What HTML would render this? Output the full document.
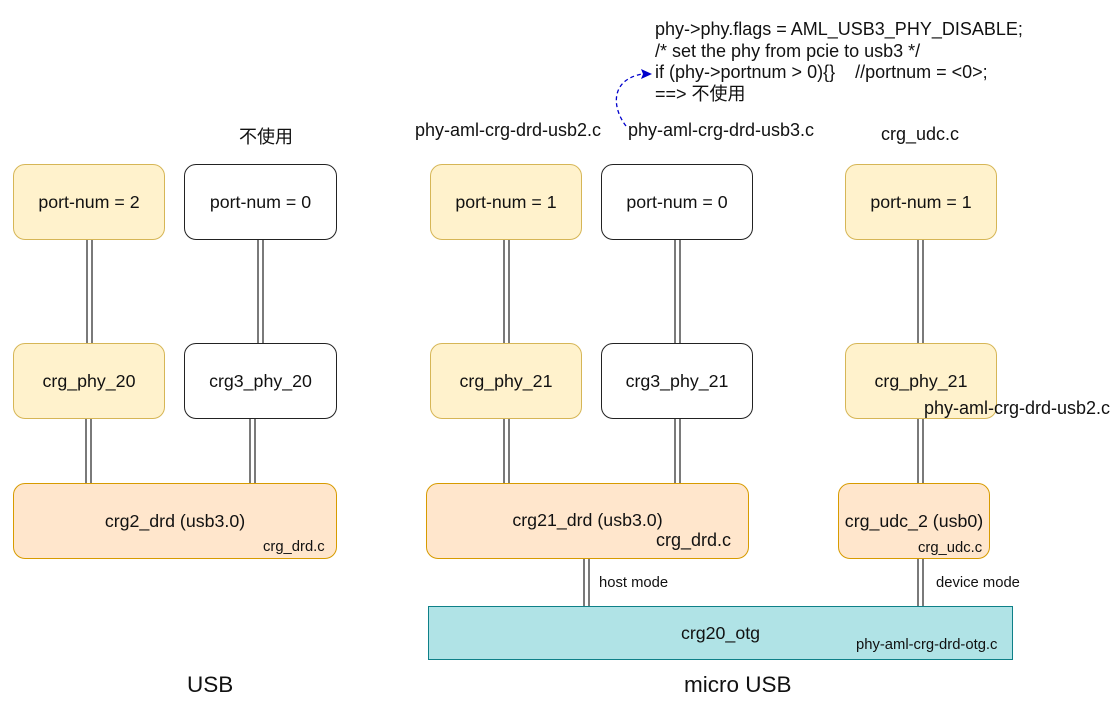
<!DOCTYPE html>
<html><head><meta charset="utf-8"><style>
body{margin:0;width:1116px;height:728px;background:#fff;position:relative;overflow:hidden;font-family:"Liberation Sans","Noto Sans CJK SC",sans-serif;color:#111}
.b{position:absolute;box-sizing:border-box;border-radius:12px;display:flex;align-items:center;justify-content:center;font-size:17.8px}
.y{background:#fff2cc;border:1.3px solid #d6b656}
.w{background:#fff;border:1.3px solid #222}
.o{background:#ffe6cc;border:1.3px solid #d79b00}
.t{position:absolute;white-space:nowrap;font-size:18px}
.s{position:absolute;font-size:14.8px;white-space:nowrap}
</style></head><body>
<svg width="1116" height="728" style="position:absolute;left:0;top:0">
<g stroke="#333" stroke-width="1.3">
<line x1="87" y1="240" x2="87" y2="343"/><line x1="92" y1="240" x2="92" y2="343"/>
<line x1="258" y1="240" x2="258" y2="343"/><line x1="263" y1="240" x2="263" y2="343"/>
<line x1="86" y1="419" x2="86" y2="483"/><line x1="91" y1="419" x2="91" y2="483"/>
<line x1="250" y1="419" x2="250" y2="483"/><line x1="255" y1="419" x2="255" y2="483"/>
<line x1="504" y1="240" x2="504" y2="343"/><line x1="509" y1="240" x2="509" y2="343"/>
<line x1="675" y1="240" x2="675" y2="343"/><line x1="680" y1="240" x2="680" y2="343"/>
<line x1="504" y1="419" x2="504" y2="483"/><line x1="509" y1="419" x2="509" y2="483"/>
<line x1="675" y1="419" x2="675" y2="483"/><line x1="680" y1="419" x2="680" y2="483"/>
<line x1="918" y1="240" x2="918" y2="343"/><line x1="923" y1="240" x2="923" y2="343"/>
<line x1="918" y1="419" x2="918" y2="483"/><line x1="923" y1="419" x2="923" y2="483"/>
<line x1="584" y1="559" x2="584" y2="606"/><line x1="589" y1="559" x2="589" y2="606"/>
<line x1="918" y1="559" x2="918" y2="606"/><line x1="923" y1="559" x2="923" y2="606"/>
</g>
<path d="M626 126 C612 108 610 80 642 74" fill="none" stroke="#0000cc" stroke-width="1.3" stroke-dasharray="4 3"/>
<path d="M652 74 L641 69 L643 74 L641 79 Z" fill="#0000cc"/>
</svg>
<div class="b y" style="left:13px;top:164px;width:152px;height:76px">port-num = 2</div>
<div class="b w" style="left:184px;top:164px;width:153px;height:76px">port-num = 0</div>
<div class="b y" style="left:13px;top:343px;width:152px;height:76px">crg_phy_20</div>
<div class="b w" style="left:184px;top:343px;width:153px;height:76px">crg3_phy_20</div>
<div class="b o" style="left:13px;top:483px;width:324px;height:76px">crg2_drd (usb3.0)</div>
<div class="s" style="left:263px;top:539px">crg_drd.c</div>
<div class="b y" style="left:430px;top:164px;width:152px;height:76px">port-num = 1</div>
<div class="b w" style="left:601px;top:164px;width:152px;height:76px">port-num = 0</div>
<div class="b y" style="left:430px;top:343px;width:152px;height:76px">crg_phy_21</div>
<div class="b w" style="left:601px;top:343px;width:152px;height:76px">crg3_phy_21</div>
<div class="b o" style="left:426px;top:483px;width:323px;height:76px;padding-bottom:2px">crg21_drd (usb3.0)</div>
<div class="t" style="left:656px;top:530px">crg_drd.c</div>
<div class="b y" style="left:845px;top:164px;width:152px;height:76px">port-num = 1</div>
<div class="b y" style="left:845px;top:343px;width:152px;height:76px">crg_phy_21</div>
<div class="t" style="left:924px;top:398px">phy-aml-crg-drd-usb2.c</div>
<div class="b o" style="left:838px;top:483px;width:152px;height:76px">crg_udc_2 (usb0)</div>
<div class="s" style="left:918px;top:540px">crg_udc.c</div>
<div class="b" style="left:428px;top:606px;width:585px;height:54px;border-radius:0;background:#b0e3e6;border:1.3px solid #0e8088">crg20_otg</div>
<div class="s" style="left:856px;top:637px">phy-aml-crg-drd-otg.c</div>
<div class="s" style="left:599px;top:575px">host mode</div>
<div class="s" style="left:936px;top:575px">device mode</div>
<div class="t" style="left:239px;top:123px">不使用</div>
<div class="t" style="left:415px;top:120px">phy-aml-crg-drd-usb2.c</div>
<div class="t" style="left:628px;top:120px">phy-aml-crg-drd-usb3.c</div>
<div class="t" style="left:881px;top:124px">crg_udc.c</div>
<div class="t" style="left:655px;top:19px;line-height:21.5px">phy-&gt;phy.flags = AML_USB3_PHY_DISABLE;<br>/* set the phy from pcie to usb3 */<br>if (phy-&gt;portnum &gt; 0){}&nbsp;&nbsp;&nbsp; //portnum = &lt;0&gt;;<br>==&gt; 不使用</div>
<div class="t" style="left:187px;top:672px;font-size:22.5px">USB</div>
<div class="t" style="left:684px;top:672px;font-size:22.5px">micro USB</div>
</body></html>
